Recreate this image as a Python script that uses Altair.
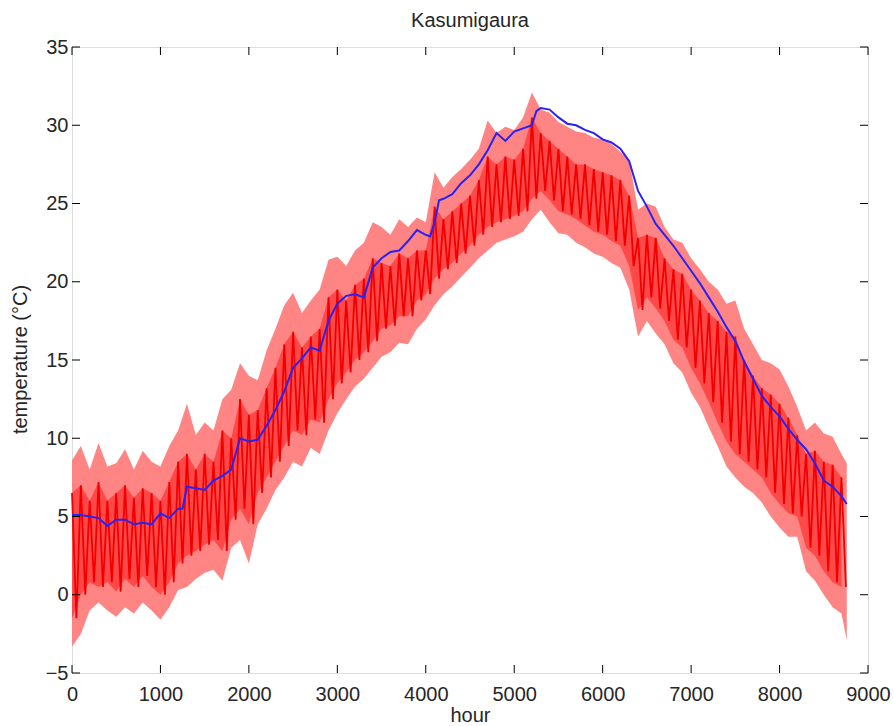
import altair as alt
import pandas as pd

# ---- data ----
env_hours = list(range(0, 8800, 100)) + [8760]
light_hi = [8.6, 9.5, 8.0, 9.7, 8.2, 8.4, 9.3, 8.0, 9.2, 8.5,
            8.2, 9.5, 10.5, 12.2, 10.2, 11.0, 10.5, 12.5, 13.1, 14.8,
            14.0, 13.7, 15.6, 17.0, 18.5, 19.3, 18.0, 18.8, 19.5, 21.4,
            21.6, 21.0, 22.0, 22.5, 23.8, 23.5, 23.0, 24.0, 23.5, 24.1,
            23.8, 27.0, 26.0, 26.7, 27.2, 27.8, 28.5, 30.3, 29.5, 29.9,
            29.7, 30.5, 32.1, 31.0, 30.8, 30.2, 29.9, 29.6, 29.5, 29.2,
            29.1, 28.8, 28.3, 27.8, 24.6, 25.0, 24.8, 23.5, 22.7, 22.5,
            21.5, 20.8, 20.0, 19.5, 18.6, 18.8, 17.0, 16.0, 15.0, 14.8,
            14.4, 13.3, 12.0, 10.5, 11.0, 10.3, 10.1, 9.0, 8.4]
light_lo = [-3.3, -2.5, -1.0, -0.5, -1.0, -1.4, -0.8, -1.2, -0.5, -1.0,
            -1.6, -0.8, 0.3, 0.5, 1.0, 1.4, 1.6, 0.9, 3.0, 3.5,
            2.0, 4.5, 5.5, 6.7, 7.5, 8.5, 8.2, 9.4, 9.0, 10.5,
            11.6, 12.5, 13.3, 13.8, 14.5, 15.2, 15.5, 16.1, 16.0, 17.0,
            17.6, 18.5, 19.2, 19.7, 20.3, 20.9, 21.5, 22.0, 22.5, 22.7,
            22.9, 23.2, 24.0, 24.6, 23.8, 23.1, 23.0, 22.5, 22.2, 21.8,
            21.6, 21.2, 20.9, 19.5, 16.5, 17.5, 16.7, 16.0, 14.8, 14.2,
            12.9, 12.0, 10.7, 9.5, 8.2, 7.5, 6.9, 6.5, 5.9, 5.0,
            4.3, 3.7, 3.7, 1.5, 0.9, 0.0, -0.8, -1.2, -2.9]

dark_hours = list(range(0, 8800, 100))
dark_hi = [6.5, 7.0, 6.0, 7.2, 6.0, 6.5, 7.0, 6.2, 6.8, 6.5,
           6.0, 7.2, 8.5, 9.0, 8.0, 9.0, 8.5, 10.5, 10.0, 12.5,
           11.5, 11.8, 13.2, 14.5, 16.0, 16.8, 15.8, 16.5, 17.0, 19.0,
           19.5, 18.8, 19.8, 20.2, 21.5, 21.2, 21.0, 21.8, 21.5, 22.0,
           22.0, 24.8, 24.0, 24.5, 25.0, 25.5, 26.5, 28.0, 27.5, 28.0,
           27.8, 28.5, 30.5, 29.5, 29.0, 28.5, 28.0, 27.5, 27.5, 27.2,
           27.0, 26.8, 26.5, 25.5, 22.8, 23.0, 22.8, 21.5, 20.8, 20.5,
           19.5, 18.8, 18.0, 17.5, 16.8, 16.5, 15.0, 14.0, 13.2, 12.8,
           12.2, 11.3, 10.2, 9.0, 9.2, 8.5, 8.3, 7.5]
dark_lo = [-1.5, 0.0, 0.8, 0.5, 0.8, 0.2, 1.0, 0.5, 1.2, 0.5,
           0.0, 0.8, 2.0, 2.5, 2.8, 3.2, 3.5, 2.8, 4.8, 5.5,
           4.5, 6.5, 7.5, 8.5, 9.5, 10.5, 10.2, 11.2, 11.0, 12.5,
           13.5, 14.2, 15.0, 15.5, 16.2, 17.0, 17.2, 17.8, 17.8, 18.8,
           19.2, 20.2, 20.8, 21.2, 21.8, 22.3, 23.0, 23.5, 23.8, 24.0,
           24.2, 24.5, 25.3, 25.8, 25.2, 24.5, 24.3, 24.0, 23.6, 23.2,
           23.0, 22.6, 22.3, 21.0, 18.2, 19.0, 18.3, 17.5, 16.3, 15.8,
           14.5, 13.5, 12.3, 11.0, 9.8, 9.0, 8.5, 8.0, 7.5, 6.5,
           5.8, 5.2, 5.0, 3.0, 2.5, 1.5, 0.8, 0.5]

blue_hours = [0, 100, 200, 300, 400, 500, 600, 700, 800, 900, 1000, 1100, 1200, 1250,
              1300, 1400, 1500, 1600, 1700, 1800, 1850, 1900, 2000, 2100, 2200, 2300,
              2400, 2500, 2600, 2700, 2800, 2900, 3000, 3100, 3200, 3300, 3400, 3500,
              3600, 3700, 3800, 3900, 4000, 4050, 4100, 4150, 4200, 4300, 4400, 4500,
              4600, 4700, 4800, 4900, 5000, 5100, 5200, 5250, 5300, 5400, 5500, 5600,
              5700, 5800, 5900, 6000, 6100, 6200, 6300, 6400, 6500, 6600, 6700, 6800,
              6900, 7000, 7100, 7200, 7300, 7400, 7500, 7600, 7700, 7800, 7900, 8000,
              8100, 8200, 8300, 8400, 8500, 8600, 8700, 8760]
blue_temp = [5.1, 5.1, 5.0, 4.9, 4.4, 4.8, 4.8, 4.5, 4.6, 4.5, 5.2, 4.9, 5.5, 5.5,
             6.9, 6.8, 6.7, 7.3, 7.6, 8.0, 9.0, 10.0, 9.8, 9.9, 10.8, 11.8,
             13.0, 14.5, 15.1, 15.8, 15.6, 17.5, 18.6, 19.1, 19.2, 19.0, 20.9, 21.5,
             21.9, 22.0, 22.6, 23.3, 23.0, 22.9, 23.8, 25.2, 25.3, 25.6, 26.3, 26.8,
             27.5, 28.4, 29.5, 29.0, 29.6, 29.8, 30.0, 30.9, 31.1, 31.0, 30.5, 30.1,
             30.0, 29.7, 29.5, 29.1, 28.9, 28.5, 27.7, 25.8, 24.8, 23.7, 23.0, 22.3,
             21.5, 20.7, 19.9, 19.0, 18.1, 17.1, 16.2, 14.9, 13.8, 12.7, 12.0, 11.4,
             10.6, 9.9, 9.3, 8.4, 7.3, 6.9, 6.3, 5.8]

x_ticks = [0, 1000, 2000, 3000, 4000, 5000, 6000, 7000, 8000, 9000]
y_ticks = [-5, 0, 5, 10, 15, 20, 25, 30, 35]

# ---- tables ----
env_df = pd.DataFrame({"hour": env_hours, "lo": light_lo, "hi": light_hi})
dark_df = pd.DataFrame({"hour": dark_hours, "lo": dark_lo, "hi": dark_hi})
zz_h, zz_t = [], []
for h, a, b in zip(dark_hours, dark_hi, dark_lo):
    zz_h += [h, h + 50]
    zz_t += [a, b]
zz_df = pd.DataFrame({"hour": zz_h, "temp": zz_t})
blue_df = pd.DataFrame({"hour": blue_hours, "temp": blue_temp})
xt_df = pd.DataFrame({"hour": x_ticks})
yt_df = pd.DataFrame({"temp": y_ticks})

W, H = 796, 626
FONT = "Liberation Sans"
TXT = "#262626"

xs = alt.Scale(domain=[0, 9000], nice=False, zero=False)
ys = alt.Scale(domain=[-5, 35], nice=False, zero=False)

x_axis = alt.Axis(values=x_ticks, format="d", ticks=False, domain=False, grid=False,
                  labelFontSize=20, labelFont=FONT, labelColor=TXT, labelPadding=11,
                  labelFlush=False,
                  title="hour", titleFontSize=20, titleFont=FONT, titleColor=TXT,
                  titleFontWeight="normal", titleX=398, titleY=42, titleBaseline="middle")
y_axis = alt.Axis(values=y_ticks, format="d", ticks=False, domain=False, grid=False,
                  labelFontSize=20, labelFont=FONT, labelColor=TXT, labelPadding=4,
                  labelFlush=False,
                  title="temperature (°C)", titleFontSize=20, titleFont=FONT,
                  titleColor=TXT, titleFontWeight="normal", titleX=-52, titleY=312,
                  titleBaseline="middle", titleAngle=270)

X = lambda f="hour": alt.X(f"{f}:Q", scale=xs, axis=x_axis)
Y = lambda f="temp": alt.Y(f"{f}:Q", scale=ys, axis=y_axis)

band = alt.Chart(env_df).mark_area(color="#ff8585", opacity=1).encode(
    x=X(), y=Y("lo"), y2="hi:Q")

dark_fill = alt.Chart(dark_df).mark_area(color="#ff0000", opacity=0.45).encode(
    x=X(), y=Y("lo"), y2="hi:Q")

dark = alt.Chart(zz_df).mark_line(color="#f00000", strokeWidth=1.8).encode(
    x=X(), y=Y())

blue = alt.Chart(blue_df).mark_line(color="#2a22f0", strokeWidth=2).encode(
    x=X(), y=Y())

tick_len = 8
xt_bottom = alt.Chart(xt_df).mark_rule(color="black", strokeWidth=1).encode(
    x=X(), y=alt.value(H), y2=alt.value(H - tick_len))
xt_top = alt.Chart(xt_df).mark_rule(color="black", strokeWidth=1).encode(
    x=X(), y=alt.value(0), y2=alt.value(tick_len))
yt_left = alt.Chart(yt_df).mark_rule(color="black", strokeWidth=1).encode(
    y=Y(), x=alt.value(0), x2=alt.value(tick_len))
yt_right = alt.Chart(yt_df).mark_rule(color="black", strokeWidth=1).encode(
    y=Y(), x=alt.value(W), x2=alt.value(W - tick_len))

chart = alt.layer(band, dark_fill, dark, blue, xt_bottom, xt_top, yt_left, yt_right).properties(
    width=W, height=H,
    title=alt.TitleParams("Kasumigaura", fontSize=20, font=FONT, color=TXT,
                          fontWeight="normal", anchor="middle", offset=6),
    autosize=alt.AutoSizeParams(type="none"),
    padding={"left": 72, "top": 47, "right": 26, "bottom": 53},
).configure_view(stroke="black", strokeWidth=1.5).configure(background="white")

chart.save("out.html", embed_options={"renderer": "svg", "actions": False})
